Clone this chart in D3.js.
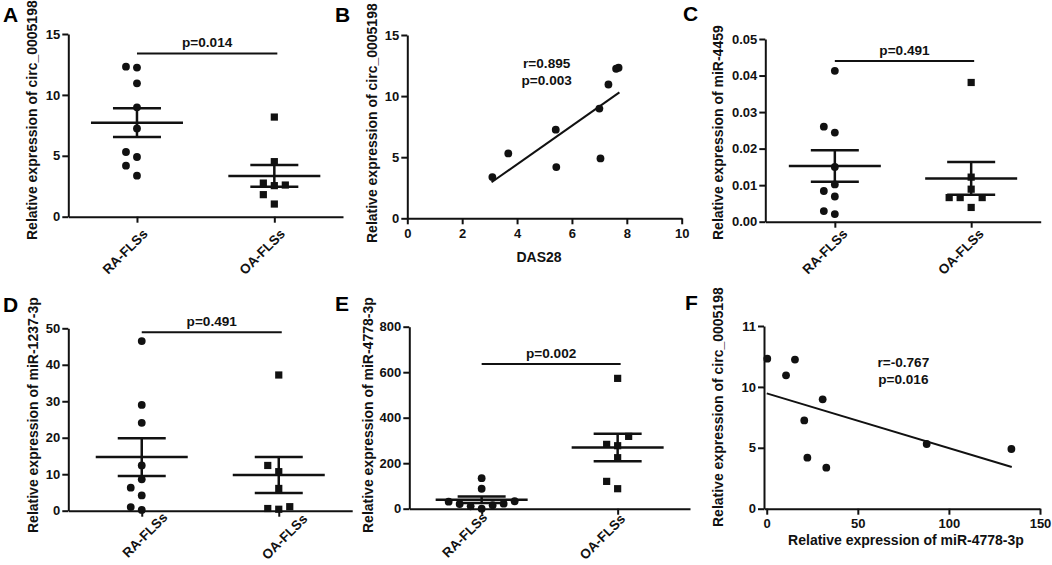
<!DOCTYPE html>
<html lang="en">
<head>
<meta charset="UTF-8">
<title>circ_0005198 / miRNA expression in FLSs</title>
<script src="https://d3js.org/d3.v7.min.js"></script>
<style>
  body { margin: 0; background: white; }
  svg { font-family: "Liberation Sans", Arial, sans-serif; font-weight: bold; }
  .axis path, .axis line { stroke: #111; stroke-width: 2; }
  .axis text { fill: #111; font-size: 13px; font-weight: bold; font-family: "Liberation Sans", Arial, sans-serif; }
  .axis .cat text { font-size: 13.5px; }
  .title { fill: #111; font-size: 14px; }
  .letter { fill: #000; font-size: 21px; }
  .note { fill: #111; font-size: 13.6px; }
</style>
</head>
<body>
<div id="figure"></div>
<script>
// ---- data ----
const groups = ["RA-FLSs", "OA-FLSs"];
const letters = ["A", "B", "C", "D", "E", "F"];

// RA samples, same order in every RA array
const circRA = [12.32, 12.24, 10.95, 8.98, 7.25, 5.31, 4.90, 4.19, 3.37];
const das28RA = [7.70, 7.61, 7.33, 7.00, 5.41, 3.68, 7.04, 5.43, 3.10];
const mir4778RA = [0.3, 15.5, 10.6, 30.7, 20.6, 87.8, 134.3, 22.3, 32.7];
const mir4459RA = [0.0413, 0.0260, 0.0244, 0.0150, 0.0102, 0.0084, 0.0069, 0.0029, 0.0021];
const mir1237RA = [46.5, 29.0, 24.1, 12.4, 8.6, 6.3, 4.2, 1.0, 0.2];

// OA samples
const circOA = [8.18, 4.52, 2.76, 2.60, 2.55, 1.81, 1.04];
const mir4459OA = [0.0381, 0.0122, 0.0089, 0.0066, 0.0066, 0.0066, 0.0039];
const mir1237OA = [37.2, 12.4, 10.7, 6.1, 1.1, 0.6, 0.4];
const mir4778OA = [572.9, 317.9, 282.8, 276.9, 224.2, 120.1, 87.9];

// p-values of group comparisons and bracket heights (data units)
const pLabels = ["p=0.014", "p=0.491", "p=0.491", "p=0.002"];
const pBracket = [13.4, 0.044, 48.9, 636];

// correlation panels: fitted line ends and stats
const das28Fit = [[3.07, 2.95], [7.73, 10.31]];
const mir4778Fit = [[0, 9.47], [134.5, 3.42]];
const das28Stats = ["r=0.895", "p=0.003"];
const mir4778Stats = ["r=-0.767", "p=0.016"];

// tick values
const circTicks = [0, 5, 10, 15];
const mir4459Ticks = [0, 0.01, 0.02, 0.03, 0.04, 0.05];
const mir1237Ticks = [0, 10, 20, 30, 40, 50];
const mir4778Ticks = [0, 200, 400, 600, 800];
const das28Ticks = [0, 2, 4, 6, 8, 10];
const mir4778XTicks = [0, 50, 100, 150];
const circFTickLabels = ["0", "5", "10", "11"];

// ---- drawing ----
const width = 1052, height = 565;
const svg = d3.select("#figure").append("svg")
  .attr("width", width).attr("height", height)
  .style("background", "white");

const ink = "#111";

function letter(t, x, y) {
  svg.append("text").attr("class", "letter").attr("x", x).attr("y", y).text(t);
}

function yTitle(t, x, y) {
  svg.append("text").attr("class", "title")
    .attr("transform", `translate(${x},${y}) rotate(-90)`)
    .attr("text-anchor", "start")
    .text(t);
}

function yAxis(y, x0, ticks, fmt) {
  const ax = d3.axisLeft(y).tickValues(ticks).tickSize(6).tickPadding(2).tickSizeOuter(0);
  if (fmt) ax.tickFormat(fmt);
  svg.append("g").attr("class", "axis")
    .attr("transform", `translate(${x0},0)`)
    .call(ax);
}

// simple beeswarm: slots of one dot width, lowest values placed first
function swarm(vals, y, minGap) {
  const order = d3.range(vals.length).sort((a, b) => vals[a] - vals[b]);
  const placed = [], slot = [];
  const cands = [0, -1, 1, -2, 2, -3, 3, -4, 4];
  order.forEach(i => {
    const py = y(vals[i]);
    for (const c of cands) {
      if (!placed.some(p => p.s === c && Math.abs(p.y - py) < minGap)) {
        slot[i] = c; placed.push({ s: c, y: py }); break;
      }
    }
  });
  return slot;
}

function dotPanel(p) {
  const x = d3.scalePoint().domain(groups).range([p.x0, p.x1]).padding(p.pad);
  const y = d3.scaleLinear().domain([0, p.max]).range([p.yBot, p.yTop]);

  yAxis(y, p.x0, p.ticks, p.fmt);

  const gx = svg.append("g").attr("class", "axis")
    .attr("transform", `translate(0,${p.yBot})`)
    .call(d3.axisBottom(x).tickSize(6).tickSizeOuter(0));
  gx.selectAll(".tick").classed("cat", true);
  gx.selectAll(".tick text")
    .attr("text-anchor", "end")
    .attr("dy", null).attr("y", null)
    .attr("transform", (d, i) => `translate(${p.lab[i][0]},${p.lab[i][1]}) rotate(-45)`);

  [p.ra, p.oa].forEach((vals, gi) => {
    const cx = x(groups[gi]);
    const m = d3.mean(vals);
    const sem = d3.deviation(vals) / Math.sqrt(vals.length);
    const g = svg.append("g").attr("stroke", ink).attr("stroke-width", 2.5);
    g.append("line").attr("x1", cx - 46).attr("x2", cx + 46).attr("y1", y(m)).attr("y2", y(m));
    g.append("line").attr("x1", cx).attr("x2", cx).attr("y1", y(m - sem)).attr("y2", y(m + sem));
    [m - sem, m + sem].forEach(v =>
      g.append("line").attr("x1", cx - 24).attr("x2", cx + 24).attr("y1", y(v)).attr("y2", y(v)));

    const slots = swarm(vals, y, 10.5);
    if (gi === 0) {
      svg.append("g").selectAll("circle").data(vals).join("circle")
        .attr("cx", (d, i) => cx + slots[i] * 11)
        .attr("cy", d => y(d))
        .attr("r", 3.9).attr("fill", ink);
    } else {
      svg.append("g").selectAll("rect").data(vals).join("rect")
        .attr("x", (d, i) => cx + slots[i] * 11 - 3.6)
        .attr("y", d => y(d) - 3.6)
        .attr("width", 7.2).attr("height", 7.2).attr("fill", ink);
    }
  });

  const by = y(p.bracket);
  const bx1 = x(groups[0]), bx2 = x(groups[1]) + 3;
  svg.append("line").attr("x1", bx1).attr("x2", bx2).attr("y1", by).attr("y2", by)
    .attr("stroke", ink).attr("stroke-width", 2);
  svg.append("text").attr("class", "note").attr("text-anchor", "middle")
    .attr("x", (bx1 + bx2) / 2).attr("y", by - 6).text(p.pText);

  yTitle(p.title, p.titleX, p.titleY);
  letter(p.letter, p.lx, p.ly);
}

function scatterPanel(p) {
  const x = d3.scaleLinear().domain(p.xDomain).range([p.x0, p.x1]);
  const y = d3.scaleLinear().domain([0, 15]).range([p.yBot, p.yTop]);

  yAxis(y, p.x0, circTicks, p.yFmt);
  svg.append("g").attr("class", "axis")
    .attr("transform", `translate(0,${p.yBot})`)
    .call(d3.axisBottom(x).tickValues(p.xTicks).tickSize(6).tickPadding(4).tickSizeOuter(0));

  svg.append("line")
    .attr("x1", x(p.fit[0][0])).attr("y1", y(p.fit[0][1]))
    .attr("x2", x(p.fit[1][0])).attr("y2", y(p.fit[1][1]))
    .attr("stroke", ink).attr("stroke-width", 2);

  svg.append("g").selectAll("circle").data(p.xs).join("circle")
    .attr("cx", d => x(d))
    .attr("cy", (d, i) => y(p.ys[i]))
    .attr("r", 3.9).attr("fill", ink);

  p.stats.forEach((t, i) => {
    svg.append("text").attr("class", "note").attr("text-anchor", "middle")
      .attr("x", x(p.statAt[0])).attr("y", y(p.statAt[1]) + i * 17).text(t);
  });

  svg.append("text").attr("class", "title").attr("text-anchor", "middle")
    .attr("x", p.xTitleAt[0]).attr("y", p.xTitleAt[1]).text(p.xTitle);
  yTitle(p.title, p.titleX, p.titleY);
  letter(p.letter, p.lx, p.ly);
}

dotPanel({ x0: 68.3, x1: 343, pad: 0.5, yTop: 34, yBot: 216.7, max: 15, ticks: circTicks,
  lab: [[11, 18], [11, 18]],
  ra: circRA, oa: circOA, bracket: pBracket[0], pText: pLabels[0],
  title: "Relative expression of circ_0005198", titleX: 37, titleY: 240,
  letter: letters[0], lx: 3, ly: 22 });

scatterPanel({ x0: 407.3, x1: 681.7, yTop: 35, yBot: 218.3, xDomain: [0, 10], xTicks: das28Ticks,
  xs: das28RA, ys: circRA, fit: das28Fit, stats: das28Stats, statAt: [5.08, 12.27],
  xTitle: "DAS28", xTitleAt: [539, 261.5],
  title: "Relative expression of circ_0005198", titleX: 377, titleY: 243,
  letter: letters[1], lx: 335, ly: 22 });

dotPanel({ x0: 765.3, x1: 1040.7, pad: 0.51, yTop: 39, yBot: 221.7, max: 0.05, ticks: mir4459Ticks,
  fmt: d3.format(".2f"), lab: [[13, 13], [13, 13]],
  ra: mir4459RA, oa: mir4459OA, bracket: pBracket[1], pText: pLabels[1],
  title: "Relative expression of miR-4459", titleX: 723, titleY: 240,
  letter: letters[2], lx: 683, ly: 21 });

dotPanel({ x0: 68.3, x1: 352.2, pad: 0.536, yTop: 328.3, yBot: 510.7, max: 50, ticks: mir1237Ticks,
  lab: [[26, 7.5], [29, 9]],
  ra: mir1237RA, oa: mir1237OA, bracket: pBracket[2], pText: pLabels[2],
  title: "Relative expression of miR-1237-3p", titleX: 38, titleY: 533,
  letter: letters[3], lx: 3, ly: 312 });

dotPanel({ x0: 409.3, x1: 690, pad: 0.532, yTop: 326.7, yBot: 508.7, max: 800, ticks: mir4778Ticks,
  lab: [[6, 9.5], [8, 11]],
  ra: mir4778RA, oa: mir4778OA, bracket: pBracket[3], pText: pLabels[3],
  title: "Relative expression of miR-4778-3p", titleX: 373, titleY: 533,
  letter: letters[4], lx: 335, ly: 311 });

scatterPanel({ x0: 764, x1: 1040, yTop: 326, yBot: 508.7, xDomain: [-1.5, 150], xTicks: mir4778XTicks,
  yFmt: (d, i) => circFTickLabels[i],
  xs: mir4778RA, ys: circRA, fit: mir4778Fit, stats: mir4778Stats, statAt: [75, 11.61],
  xTitle: "Relative expression of miR-4778-3p", xTitleAt: [906, 545],
  title: "Relative expression of circ_0005198", titleX: 723, titleY: 527,
  letter: letters[5], lx: 685, ly: 310 });
</script>
</body>
</html>
